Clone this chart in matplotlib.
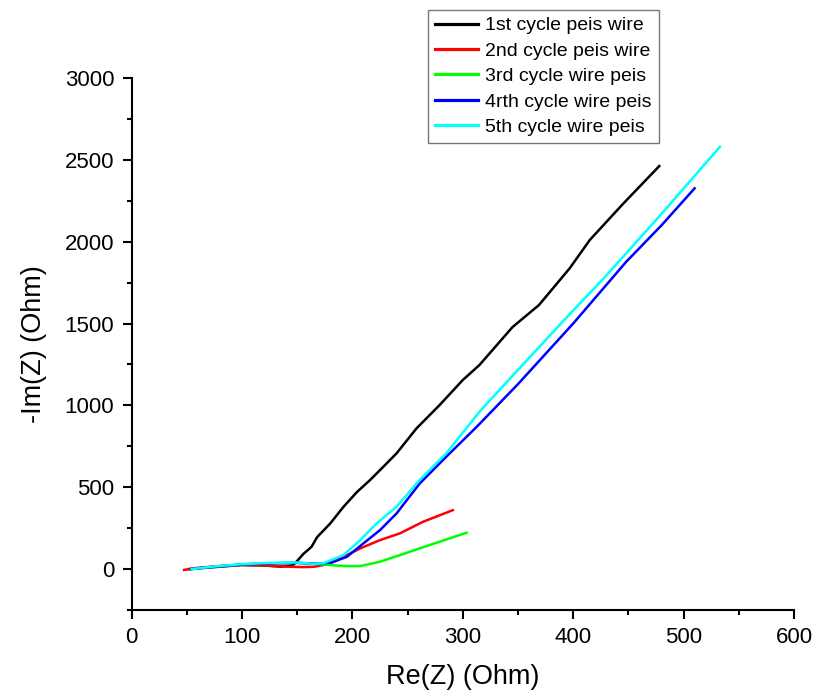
import matplotlib
matplotlib.use("Agg")
import matplotlib.pyplot as plt
from matplotlib.ticker import MultipleLocator

plt.rcParams['font.family'] = ['Liberation Sans', 'DejaVu Sans']

# 1st cycle peis wire
x1 = [52, 75, 100, 120, 135, 145, 148, 155.5, 163, 168, 180, 192, 204, 216, 228, 240, 258, 279, 300, 315, 345, 369, 397, 415, 445, 478]
y1 = [0, 12, 25, 22, 15, 22, 35, 92, 136, 195, 279, 381, 470, 544, 625, 707, 859, 1002, 1155, 1246, 1478, 1613, 1839, 2010, 2230, 2462]
# 2nd cycle peis wire
x2 = [47.5, 60, 80, 100, 120, 140, 155, 165, 178, 192, 207, 225, 243, 264, 291]
y2 = [-5, 8, 18, 25, 22, 15, 12, 14, 30, 75, 126, 177, 218, 289, 360]
# 3rd cycle wire peis
x3 = [55, 75, 100, 125, 150, 170, 185, 195, 207, 225, 246, 270, 303.5]
y3 = [0, 15, 28, 35, 38, 30, 22, 18, 18, 45, 92, 147, 222]
# 4rth cycle wire peis
x4 = [54, 75, 100, 125, 150, 170, 182, 195, 210, 225, 240, 261, 285, 312.6, 350, 400, 448, 480, 510]
y4 = [0, 15, 28, 35, 38, 32, 42, 75, 157, 238, 340, 523, 686, 869, 1130, 1500, 1877, 2100, 2326]
# 5th cycle wire peis
x5 = [54.4, 75, 100, 125, 150, 165, 173.6, 192, 207, 222, 240, 261, 285, 315.6, 360, 400, 429, 480, 533]
y5 = [0, 16, 30, 38, 40, 32, 35, 86, 177, 279, 381, 544, 707, 965, 1290, 1580, 1786, 2170, 2580]

labels = ['1st cycle peis wire', '2nd cycle peis wire', '3rd cycle wire peis',
          '4rth cycle wire peis', '5th cycle wire peis']
colors = ['#000000', '#ff0000', '#00ff00', '#0000ff', '#00ffff']

fig = plt.figure(figsize=(8.14, 6.95), dpi=100)
ax = fig.add_axes([0.1617, 0.1223, 0.8137, 0.7655])

for xs, ys, lab, c in zip([x1, x2, x3, x4, x5], [y1, y2, y3, y4, y5], labels, colors):
    ax.plot(xs, ys, color=c, lw=1.8, label=lab, solid_joinstyle='round')

ax.set_xlim(0, 600)
ax.set_ylim(-250, 3000)
ax.xaxis.set_major_locator(MultipleLocator(100))
ax.xaxis.set_minor_locator(MultipleLocator(50))
ax.yaxis.set_major_locator(MultipleLocator(500))
ax.yaxis.set_minor_locator(MultipleLocator(250))
ax.set_yticks([0, 500, 1000, 1500, 2000, 2500, 3000])

for s in ['top', 'right']:
    ax.spines[s].set_visible(False)
for s in ['left', 'bottom']:
    ax.spines[s].set_linewidth(1.5)

ax.tick_params(which='major', direction='out', length=6.5, width=1.5, labelsize=16, pad=6)
ax.tick_params(which='minor', direction='out', length=3.6, width=1.5)

ax.set_xlabel('Re(Z) (Ohm)', fontsize=19.5, labelpad=11)
ax.set_ylabel('-Im(Z) (Ohm)', fontsize=19.5, labelpad=13)

leg = fig.legend(loc='upper left', bbox_to_anchor=(428 / 814, 1 - 10 / 695),
                 fontsize=14, frameon=True, fancybox=False, handlelength=2.2,
                 labelspacing=0.4, borderpad=0.35, handletextpad=0.4, borderaxespad=0)
leg.get_frame().set_edgecolor('#555555')
leg.get_frame().set_linewidth(1.0)
for h in leg.get_lines():
    h.set_linewidth(2.3)

fig.savefig('out.png', dpi=100)
